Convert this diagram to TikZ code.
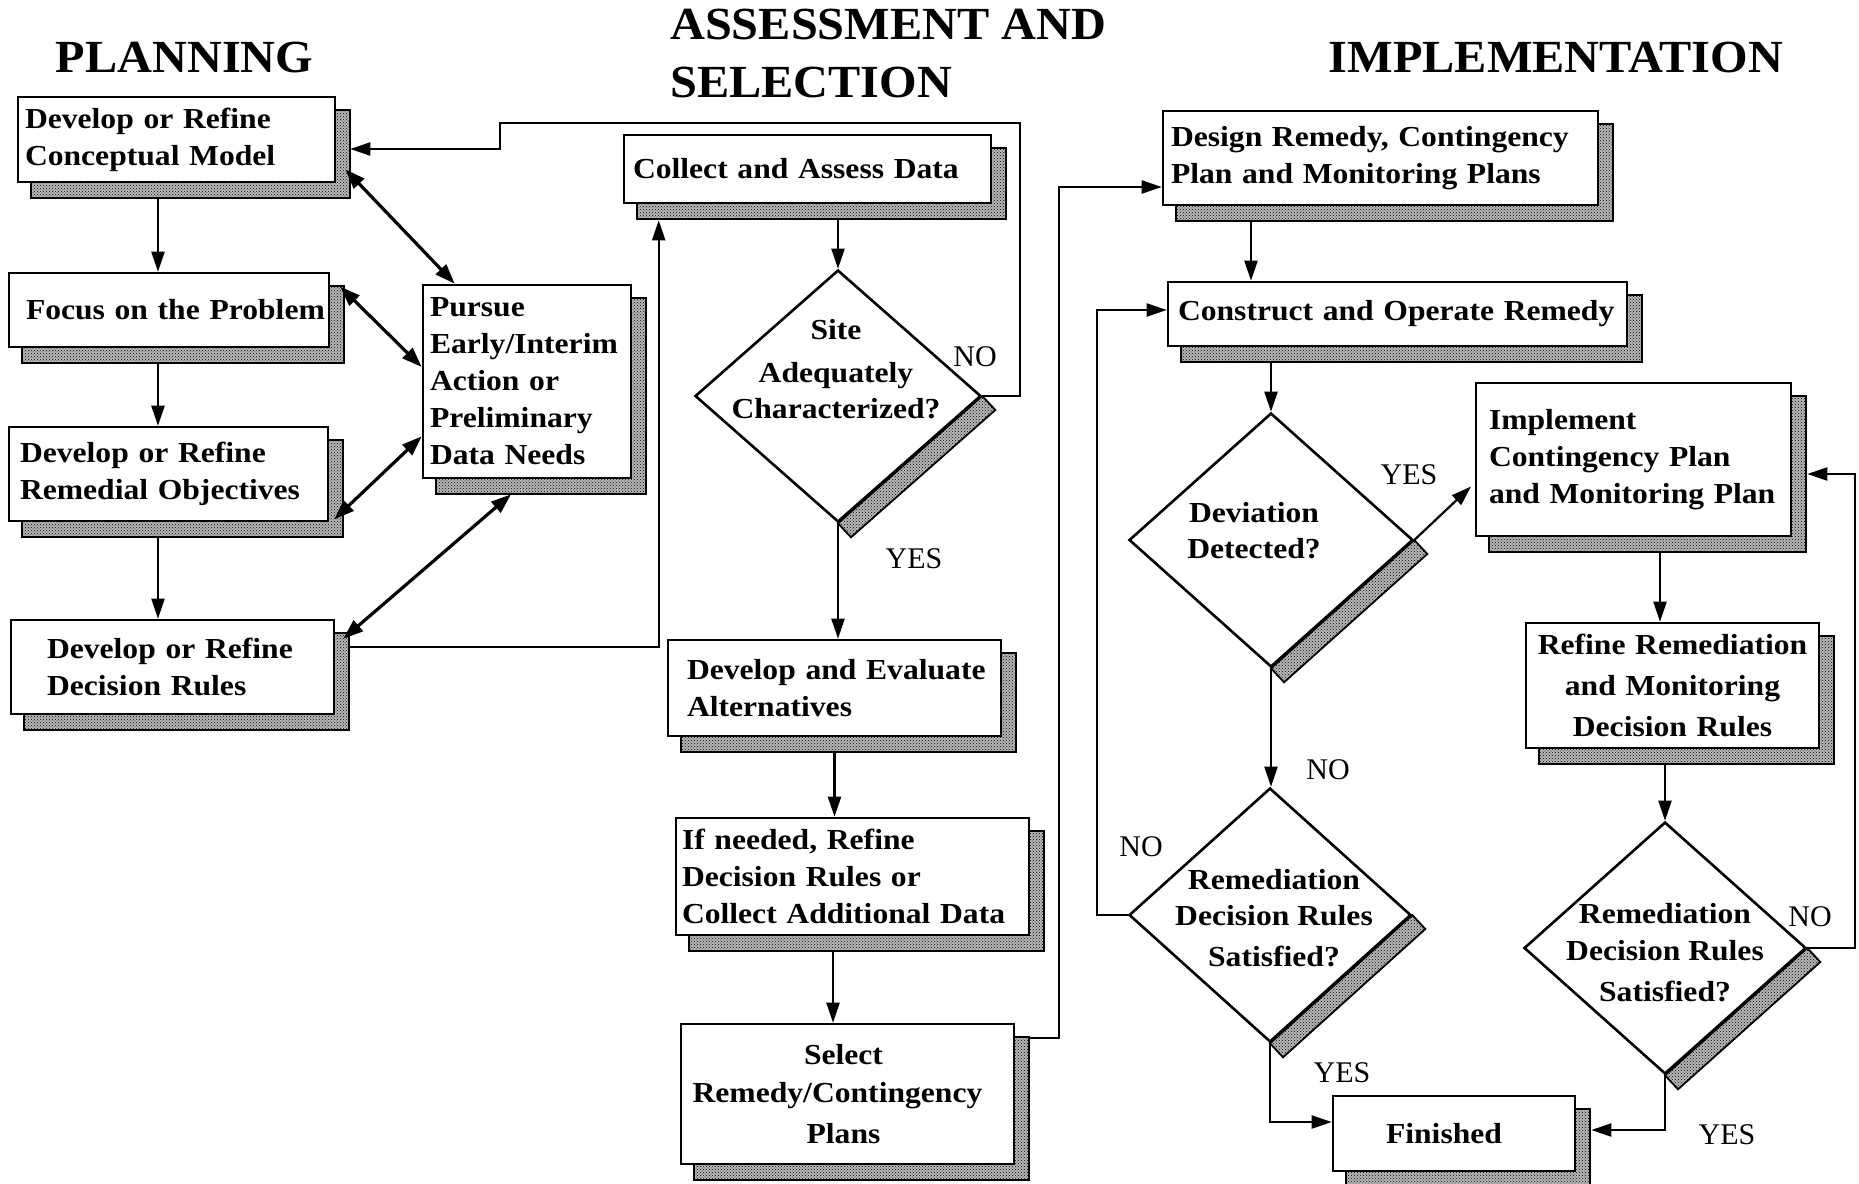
\documentclass[tikz,border=0pt]{standalone}
\usepackage{fontspec}
\newfontfamily\boxfam[FakeStretch=1.09]{Liberation Serif}
\newfontfamily\titlefam[FakeStretch=1.05]{Liberation Serif}
\newfontfamily\labfam{Liberation Serif}
\usetikzlibrary{shapes.geometric,arrows.meta,backgrounds,patterns}
\begin{document}
\begin{tikzpicture}[x=1pt,y=-1pt,
  box/.style={draw, line width=2.6pt, fill=white, align=left, inner ysep=0pt,
    font={\boxfam\bfseries\fontsize{29}{37}\selectfont}},
  cbox/.style={box, align=center},
  dia/.style={diamond, draw, line width=2.6pt, fill=white, inner sep=0pt},
  dtext/.style={align=center, inner sep=0pt, font={\boxfam\bfseries\fontsize{29}{36}\selectfont}},
  lab/.style={inner sep=0pt, font={\labfam\fontsize{30}{36}\selectfont}},
  ttl/.style={inner sep=0pt, font={\titlefam\bfseries\fontsize{46}{58}\selectfont}},
  arr/.style={line width=2.2pt, -{Triangle[length=20pt,width=13pt]}},
  dbl/.style={line width=3.2pt, {Triangle[length=20pt,width=14pt]}-{Triangle[length=20pt,width=14pt]}},
  shd/.style={draw, line width=1.8pt, preaction={fill=black!28}, pattern=crosshatch dots, pattern color=black}
]
\useasboundingbox (0,0) rectangle (1859,1183);

% titles
\node[ttl] (tP) at (184.5,57) {PLANNING};
\node[ttl, align=left, anchor=north west] (tA) at (670,9) {ASSESSMENT AND\\SELECTION};
\node[ttl] (tI) at (1556,57) {IMPLEMENTATION};

% planning boxes
\node[box, text width=303pt, inner xsep=7pt, minimum height=85pt] (b1) at (176.5,139.5)
  {\mbox{Develop or Refine}\\\mbox{Conceptual Model}};
\node[box, text width=286pt, inner xsep=17pt, minimum height=74pt] (b2) at (169,310)
  {\mbox{Focus on the Problem}};
\node[box, text width=297pt, inner xsep=11pt, minimum height=94pt] (b3) at (168.5,474)
  {\mbox{Develop or Refine}\\\mbox{Remedial Objectives}};
\node[box, text width=251pt, inner xsep=36pt, minimum height=94pt] (b4) at (172.5,667)
  {\mbox{Develop or Refine}\\\mbox{Decision Rules}};
\node[box, text width=194pt, inner xsep=7pt, minimum height=193pt] (pursue) at (527,381.5)
  {\mbox{Pursue}\\\mbox{Early/Interim}\\\mbox{Action or}\\\mbox{Preliminary}\\\mbox{Data Needs}};

% assessment boxes
\node[box, text width=349pt, inner xsep=9pt, minimum height=68pt] (collect) at (807.5,169)
  {\mbox{Collect and Assess Data}};
\node[dia, minimum width=286pt, minimum height=252pt] (d1) at (838,396) {};
\node[dtext] (d1t) at (836,369) {Site\\[7pt]Adequately\\Characterized?};
\node[box, text width=295pt, inner xsep=19pt, minimum height=96pt] (alt) at (834.5,688)
  {\mbox{Develop and Evaluate}\\\mbox{Alternatives}};
\node[box, text width=341pt, inner xsep=6pt, minimum height=117pt] (ifneeded) at (852.5,876.5)
  {\mbox{If needed, Refine}\\\mbox{Decision Rules or}\\\mbox{Collect Additional Data}};
\node[cbox, text width=313pt, inner xsep=10pt, minimum height=140pt] (select) at (847.5,1094)
  {\mbox{Select\kern8pt}\\[1pt]\mbox{Remedy/Contingency\kern20pt}\\[4pt]\mbox{Plans\kern8pt}};

% implementation boxes
\node[box, text width=419pt, inner xsep=8pt, minimum height=94pt] (design) at (1380.5,158)
  {\mbox{Design Remedy, Contingency}\\\mbox{Plan and Monitoring Plans}};
\node[box, text width=439pt, inner xsep=10pt, minimum height=64pt] (construct) at (1397.5,314)
  {\mbox{Construct and Operate Remedy}};
\node[dia, minimum width=284pt, minimum height=254pt] (d2) at (1271,540) {};
\node[dtext] (d2t) at (1254,531) {Deviation\\Detected?};
\node[box, text width=289pt, inner xsep=13pt, minimum height=153pt] (implement) at (1633.5,459.5)
  {\mbox{Implement}\\\mbox{Contingency Plan}\\\mbox{and Monitoring Plan}\\[12pt]};
\node[cbox, text width=273pt, inner xsep=10pt, minimum height=125pt] (refine) at (1672.5,685.5)
  {\mbox{Refine Remediation}\\[4pt]\mbox{and Monitoring}\\[4pt]\mbox{Decision Rules}};
\node[dia, minimum width=282pt, minimum height=254pt] (d3) at (1270,915) {};
\node[dtext] (d3t) at (1274,918) {Remediation\\Decision Rules\\[5pt]Satisfied?};
\node[dia, minimum width=282pt, minimum height=252pt] (d4) at (1665,948) {};
\node[dtext] (d4t) at (1665,953) {Remediation\\[1pt]Decision Rules\\[5pt]Satisfied?};
\node[cbox, text width=222pt, inner xsep=10pt, minimum height=75pt] (finished) at (1454,1133.5)
  {\mbox{Finished\kern20pt}};

% shadows
\begin{scope}[on background layer]
  \fill[white] (0,0) rectangle (1859,1183);
  \foreach \n in {b1,b2,b3,b4,pursue,collect,alt,ifneeded,select,design,construct,implement,refine,finished}
    \draw[shd] ([shift={(14,15)}]\n.south west) rectangle ([shift={(14,14)}]\n.north east);
  \foreach \n in {d1,d2,d3,d4}
    \draw[shd] (\n.east) -- ++(13,14) -- ([shift={(13,14)}]\n.south) -- (\n.south) -- cycle;
\end{scope}

% labels
\node[lab] (l1) at (975,357) {NO};
\node[lab] (l2) at (914,559) {YES};
\node[lab] (l3) at (1409,475) {YES};
\node[lab] (l4) at (1328,770) {NO};
\node[lab] (l5) at (1141,847) {NO};
\node[lab] (l6) at (1342,1073) {YES};
\node[lab] (l7) at (1810,917) {NO};
\node[lab] (l8) at (1727,1135) {YES};

% helper coordinates
\coordinate (k1) at (1020,123);
\coordinate (k2) at (500,149);
\coordinate (b1sr) at ([xshift=14pt]b1.east);
\coordinate (a1) at ([shift={(-18.5,15)}]b1.south);
\coordinate (a2) at ([shift={(-11,16)}]b2.south);
\coordinate (a3) at ([shift={(-10.5,15)}]b3.south);
\coordinate (a4) at ([shift={(13,-20)}]b4.east);
\coordinate (a5) at ([shift={(36,16)}]collect.south west);
\coordinate (a6) at ([yshift=-16pt]collect.south);
\coordinate (a7) at ([yshift=-15pt]alt.south);
\coordinate (a8) at ([shift={(-19.5,15)}]ifneeded.south);
\coordinate (a9) at ([shift={(14,-56)}]select.east);
\coordinate (a10) at ([yshift=-29pt]design.west);
\coordinate (k3) at (1059,187);
\coordinate (a11) at ([shift={(-129.5,15)}]design.south);
\coordinate (a12) at ([yshift=-16pt]construct.south);
\coordinate (k4) at (1097,310);
\coordinate (a13) at ([shift={(26.5,16)}]implement.south);
\coordinate (a14) at ([yshift=-15pt]refine.south);
\coordinate (k5) at (1855,474);
\coordinate (a15) at ([xshift=15pt]implement.east);

% connectors
\draw[arr] (d1.east) -| (k1) -| (k2) -- (b1sr |- k2);
\draw[arr] (a1) -- (a1 |- b2.north);
\draw[arr] (a2) -- (a2 |- b3.north);
\draw[arr] (a3) -- (a3 |- b4.north);
\draw[dbl] ([shift={(9,-14)}]b1.south east) -- ([xshift=33pt]pursue.north west);
\draw[dbl] ([shift={(10,15)}]b2.north east) -- ([yshift=14.5pt]pursue.west);
\draw[dbl] ([shift={(5,-3)}]b3.south east) -- ([yshift=43pt]pursue.south west);
\draw[dbl] ([shift={(8,20)}]b4.north east) -- ([shift={(-16,15)}]pursue.south);
\draw[arr] (a4) -| (a5);
\draw[arr] (d1.north |- a6) -- (d1.north);
\draw[arr] (d1.south) -- (d1.south |- alt.north);
\draw[arr] (a7) -- (a7 |- ifneeded.north);
\draw[arr] (a8) -- (a8 |- select.north);
\draw[arr] (a9) -| (k3) -- (a10);
\draw[arr] (a11) -- (a11 |- construct.north);
\draw[arr] (d2.north |- a12) -- (d2.north);
\draw[arr, shorten >=5pt] (d2.east) -- ([yshift=-23.5pt]implement.west);
\draw[arr] (d2.south) -- (d2.south |- d3.north);
\draw[arr] (d3.west) -| (k4) -- (construct.west |- k4);
\draw[arr] (d3.south) |- ([yshift=11.5pt]finished.west);
\draw[arr] (a13) -- (a13 |- refine.north);
\draw[arr] (d4.north |- a14) -- (d4.north);
\draw[arr] (d4.east) -| (k5) -- (a15 |- k5);
\draw[arr] (d4.south) |- ([shift={(15,-3.5)}]finished.east);
\end{tikzpicture}
\end{document}
